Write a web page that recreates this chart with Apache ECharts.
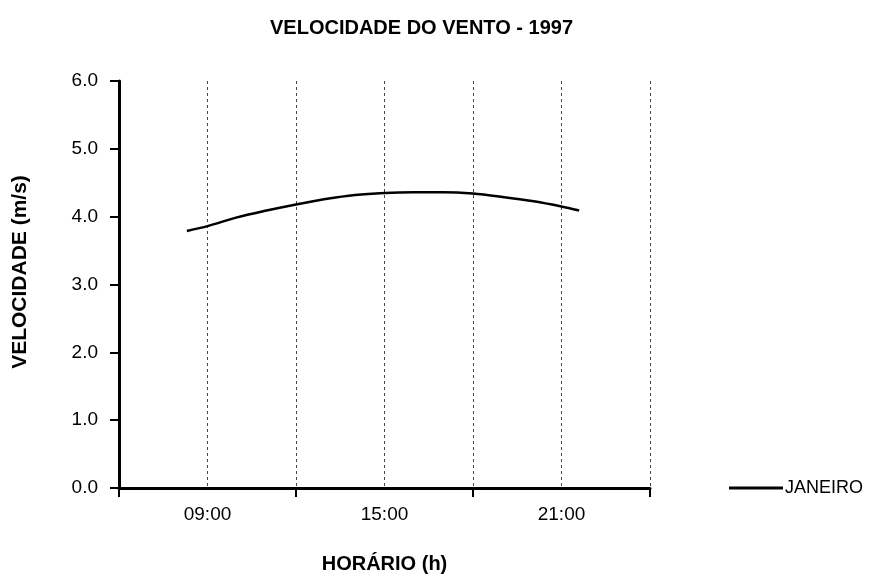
<!DOCTYPE html>
<html>
<head>
<meta charset="utf-8">
<script src="https://cdn.jsdelivr.net/npm/echarts@6/dist/echarts.min.js"></script>
<style>
  html, body { margin: 0; padding: 0; background: #fff; }
  #chart { width: 869px; height: 579px; }
</style>
</head>
<body>
<div id="chart"></div>
<script>
// horário (h) e velocidade (m/s)
const hours = [8.3, 9, 10, 11, 12, 13, 14, 15, 16, 17, 18, 19, 20, 21, 21.6];
const janeiro = [3.79, 3.86, 3.99, 4.09, 4.18, 4.26, 4.32, 4.35, 4.36, 4.36, 4.34, 4.29, 4.23, 4.15, 4.09];
const xLabels = { 9: "09:00", 15: "15:00", 21: "21:00" };
const seriesName = "JANEIRO";

const font = "Liberation Sans, Arial, sans-serif";
const chart = echarts.init(document.getElementById("chart"));

const option = {
  animation: false,
  backgroundColor: "#fff",
  title: {
    text: "VELOCIDADE DO VENTO - 1997",
    left: 265,
    top: 13,
    textStyle: { fontFamily: font, fontSize: 20, fontWeight: "bold", color: "#000" }
  },
  legend: {
    data: [seriesName],
    left: 724,
    top: 474,
    icon: "rect",
    itemWidth: 54,
    itemHeight: 3,
    itemGap: 4,
    textStyle: { fontFamily: font, fontSize: 18, color: "#000", padding: [0, 0, 0, -3] }
  },
  grid: { left: 119, right: 219, top: 81, bottom: 90 },
  xAxis: [
    {
      type: "value",
      min: 6,
      max: 24,
      interval: 3,
      name: "HORÁRIO (h)",
      nameLocation: "middle",
      nameGap: 66,
      nameTextStyle: { fontFamily: font, fontSize: 20, fontWeight: "bold", color: "#000" },
      axisLine: { lineStyle: { color: "#000", width: 3 } },
      axisTick: { show: false },
      axisLabel: {
        margin: 17,
        fontFamily: font,
        fontSize: 19,
        color: "#000",
        formatter: v => xLabels[v] || ""
      },
      splitLine: { show: true, lineStyle: { color: "#444", width: 1, type: [3, 3] } }
    },
    {
      // marcas principais a cada 6 h
      type: "value",
      position: "bottom",
      min: 6,
      max: 24,
      interval: 6,
      axisLine: { show: false },
      axisTick: { show: true, length: 9, lineStyle: { color: "#000", width: 2 } },
      axisLabel: { show: false },
      splitLine: { show: false }
    }
  ],
  yAxis: {
    type: "value",
    min: 0,
    max: 6,
    interval: 1,
    axisLine: { show: true, lineStyle: { color: "#000", width: 3 } },
    axisTick: { show: true, length: 9, lineStyle: { color: "#000", width: 2 } },
    axisLabel: {
      margin: 21,
      fontFamily: font,
      fontSize: 19,
      color: "#000",
      formatter: v => v.toFixed(1)
    },
    splitLine: { show: false }
  },
  graphic: [
    {
      type: "text",
      x: 20,
      y: 272,
      rotation: Math.PI / 2,
      style: {
        text: "VELOCIDADE (m/s)",
        fontFamily: font,
        fontSize: 21,
        fontWeight: "bold",
        fill: "#000",
        align: "center",
        verticalAlign: "middle"
      }
    }
  ],
  series: [
    {
      name: seriesName,
      type: "line",
      xAxisIndex: 0,
      smooth: 0.3,
      symbol: "none",
      lineStyle: { color: "#000", width: 2.5 },
      itemStyle: { color: "#000" },
      data: hours.map((h, i) => [h, janeiro[i]])
    }
  ]
};

chart.setOption(option);
</script>
</body>
</html>
